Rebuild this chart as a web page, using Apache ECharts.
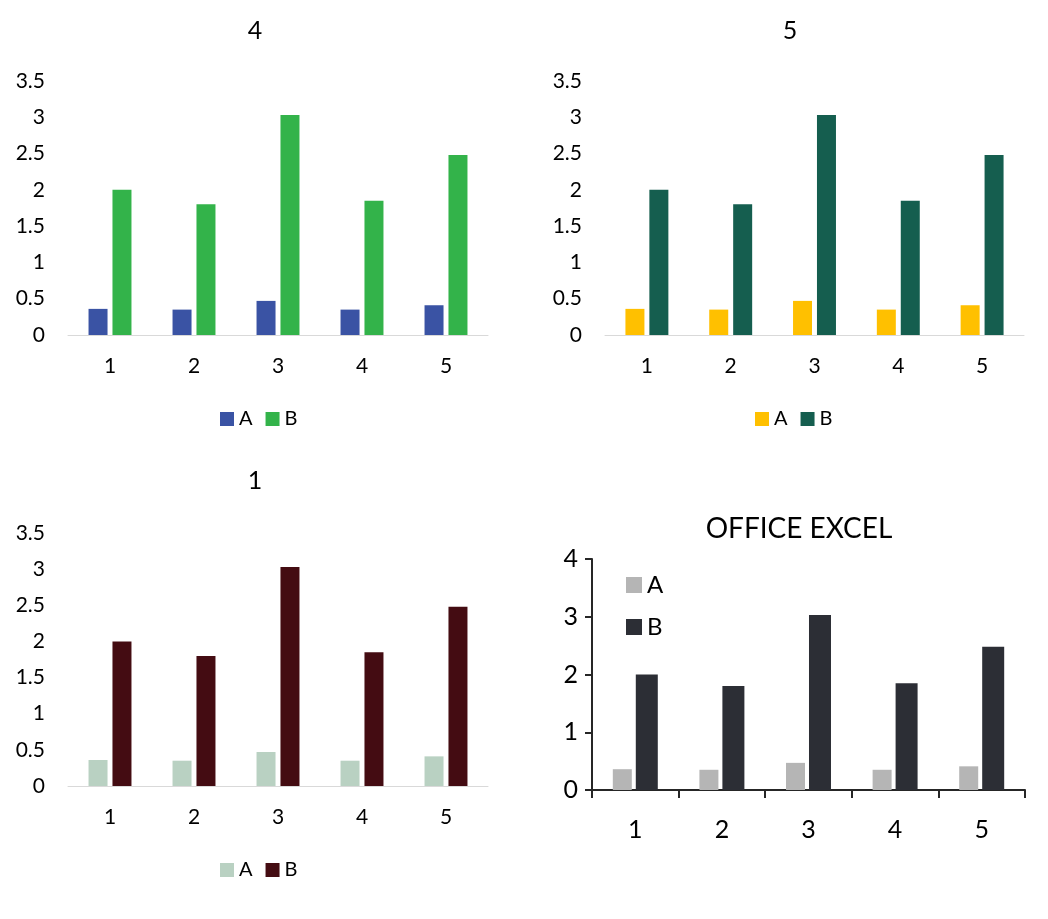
<!DOCTYPE html>
<html><head><meta charset="utf-8">
<script src="https://cdn.jsdelivr.net/npm/echarts@6/dist/echarts.min.js"></script>
<style>html,body{margin:0;padding:0;background:#fff}#c{width:1048px;height:919px}</style>
</head><body><div id="c"></div>
<script>
const categories = ['1','2','3','4','5'];
const seriesA = [0.36, 0.35, 0.47, 0.35, 0.41];
const seriesB = [2.0, 1.8, 3.03, 1.85, 2.48];
const titles = ['4', '5', '1', 'OFFICE EXCEL'];
const colorsA = ['#3A53A4', '#FFC000', '#B9D1C2', '#B5B5B5'];
const colorsB = ['#33B34A', '#155E4F', '#440C12', '#2C2E35'];

const FONT = 'Lato, "Open Sans", sans-serif';
const grids = [
  {left: 68, top: 81, width: 420, height: 254},
  {left: 605, top: 81, width: 419, height: 254},
  {left: 68, top: 533, width: 420, height: 253},
  {left: 592, top: 559, width: 433, height: 231}
];
const titlePos = [
  {left: 250, top: 13}, {left: 785, top: 13}, {left: 250, top: 463}, {left: 794, top: 510}
];

const option = {
  animation: false,
  backgroundColor: '#fff',
  title: titles.map((t, i) => ({
    text: t, left: titlePos[i].left, top: titlePos[i].top, textAlign: 'center',
    textStyle: {fontFamily: FONT, fontWeight: 'normal', fontSize: i === 3 ? 28 : 25, color: '#000'}
  })),
  grid: grids,
  legend: [0,1,2,3].map(i => {
    const base = {
      icon: 'rect', itemWidth: i === 3 ? 16 : 14, itemHeight: i === 3 ? 16 : 14,
      textStyle: {fontFamily: FONT, fontSize: i === 3 ? 24 : 20, color: '#000'},
      data: [
        {name: 'A', itemStyle: {color: colorsA[i]}},
        {name: 'B', itemStyle: {color: colorsB[i]}}
      ],
      selectedMode: false
    };
    if (i === 3) return Object.assign(base, {orient: 'vertical', left: 621, top: 568, itemGap: 18});
    const lx = i === 1 ? 750 : 215;
    const ty = i === 2 ? 855 : 404;
    return Object.assign(base, {left: lx, top: ty, itemGap: 13, orient: 'horizontal'});
  }),
  xAxis: grids.map((g, i) => ({
    type: 'category', gridIndex: i, data: categories,
    axisLine: {show: true, lineStyle: {color: i === 3 ? '#262626' : '#D9D9D9', width: i === 3 ? 2 : 1}},
    axisTick: {show: i === 3, alignWithLabel: false, length: 8, lineStyle: {color: '#262626', width: 2}},
    axisLabel: {fontFamily: FONT, fontSize: i === 3 ? 25 : 21, color: '#000', margin: i === 3 ? 27 : 21}
  })),
  yAxis: grids.map((g, i) => ({
    type: 'value', gridIndex: i, min: 0, max: i === 3 ? 4 : 3.5, interval: i === 3 ? 1 : 0.5,
    splitLine: {show: false},
    axisLine: {show: i === 3, lineStyle: {color: '#262626', width: 2}},
    axisTick: {show: i === 3, length: 7, lineStyle: {color: '#262626', width: 2}},
    axisLabel: {fontFamily: FONT, fontSize: i === 3 ? 25 : 21, color: '#000', margin: i === 3 ? 14 : 23}
  })),
  series: []
};
for (let i = 0; i < 4; i++) {
  option.series.push({
    name: 'A', type: 'bar', xAxisIndex: i, yAxisIndex: i, data: seriesA,
    barWidth: 19, barGap: i === 3 ? '21%' : '26%', itemStyle: {color: colorsA[i]}
  });
  option.series.push({
    name: 'B', type: 'bar', xAxisIndex: i, yAxisIndex: i, data: seriesB,
    barWidth: i === 3 ? 22 : 19, barGap: i === 3 ? '21%' : '26%', itemStyle: {color: colorsB[i]}
  });
}
const chart = echarts.init(document.getElementById('c'), null, {renderer: 'canvas'});
chart.setOption(option);
</script></body></html>
